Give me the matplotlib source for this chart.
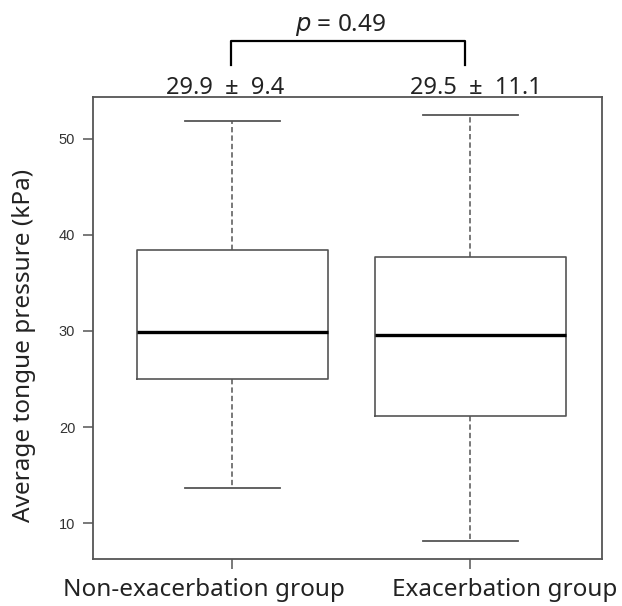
import matplotlib.pyplot as plt
import matplotlib.transforms as mtransforms
import numpy as np

# groups and box statistics (kPa)
groups = ['Non-exacerbation group', 'Exacerbation group']
whislo = [13.7, 8.1]
q1 = [25.0, 21.1]
med = [29.9, 29.55]
q3 = [38.4, 37.7]
whishi = [51.8, 52.5]
summary = ['29.9  \u00b1  9.4', '29.5  \u00b1  11.1']
p_text = '$p$ = 0.49'

plt.rcParams['font.family'] = ['Noto Sans', 'DejaVu Sans']
plt.rcParams['mathtext.fontset'] = 'custom'
plt.rcParams['mathtext.rm'] = 'Noto Sans'
plt.rcParams['mathtext.it'] = 'DejaVu Sans:italic'

fig = plt.figure(figsize=(6.22, 6.06), dpi=100)
ax = fig.add_axes([0.150, 0.0776, 0.818, 0.762])

stats = []
for i in range(len(groups)):
    stats.append({'whislo': whislo[i], 'q1': q1[i], 'med': med[i],
                  'q3': q3[i], 'whishi': whishi[i], 'fliers': []})

line_col = '#555555'
txt_col = '#222222'
ax.bxp(stats, positions=[1, 2], widths=0.805, showfliers=False,
       boxprops=dict(color=line_col, linewidth=1.2),
       medianprops=dict(color='black', linewidth=2.4),
       whiskerprops=dict(color=line_col, linewidth=1.1, linestyle=(0, (3.5, 2))),
       capprops=dict(color=line_col, linewidth=1.3),
       capwidths=0.40)

ax.set_xlim(0.416, 2.553)
ax.set_ylim(6.28, 54.3)
ax.set_yticks([10, 20, 30, 40, 50])
ax.set_yticklabels(['10', '20', '30', '40', '50'], family='Liberation Sans',
                   fontsize=10.5, color='#333333')
ax.set_xticks([1, 2])
ax.set_xticklabels(groups, fontsize=17.5, color=txt_col, fontweight='light')
ax.tick_params(axis='y', length=7, width=1.1, color=line_col, pad=6)
ax.tick_params(axis='x', length=7, width=1.1, color=line_col, pad=7)
for s in ax.spines.values():
    s.set_color(line_col)
    s.set_linewidth(1.3)

# group labels sit a little outside their ticks in the original
shifts = [-28, 34]
for lab, dx in zip(ax.get_xticklabels(), shifts):
    lab.set_transform(lab.get_transform() +
                      mtransforms.ScaledTranslation(dx / 100, 0, fig.dpi_scale_trans))

ax.set_ylabel('Average tongue pressure (kPa)', fontsize=17.5, color=txt_col,
              fontweight='light')
ax.yaxis.set_label_coords(-0.112, 0.463)

# mean +- sd above each box
sum_x = [0.969, 2.024]
for i in range(len(groups)):
    ax.text(sum_x[i], 54.6, summary[i], ha='center', va='baseline', fontsize=17,
            color=txt_col, fontweight='light', clip_on=False)

# significance bracket
ax.plot([0.995, 0.995, 1.978, 1.978], [57.7, 60.1, 60.1, 57.7], color='black',
        linewidth=1.6, clip_on=False)
ax.text(1.454, 61.2, p_text, ha='center', va='baseline', fontsize=17.5,
        color=txt_col, fontweight='light', clip_on=False)

plt.savefig('out.png', dpi=100)
